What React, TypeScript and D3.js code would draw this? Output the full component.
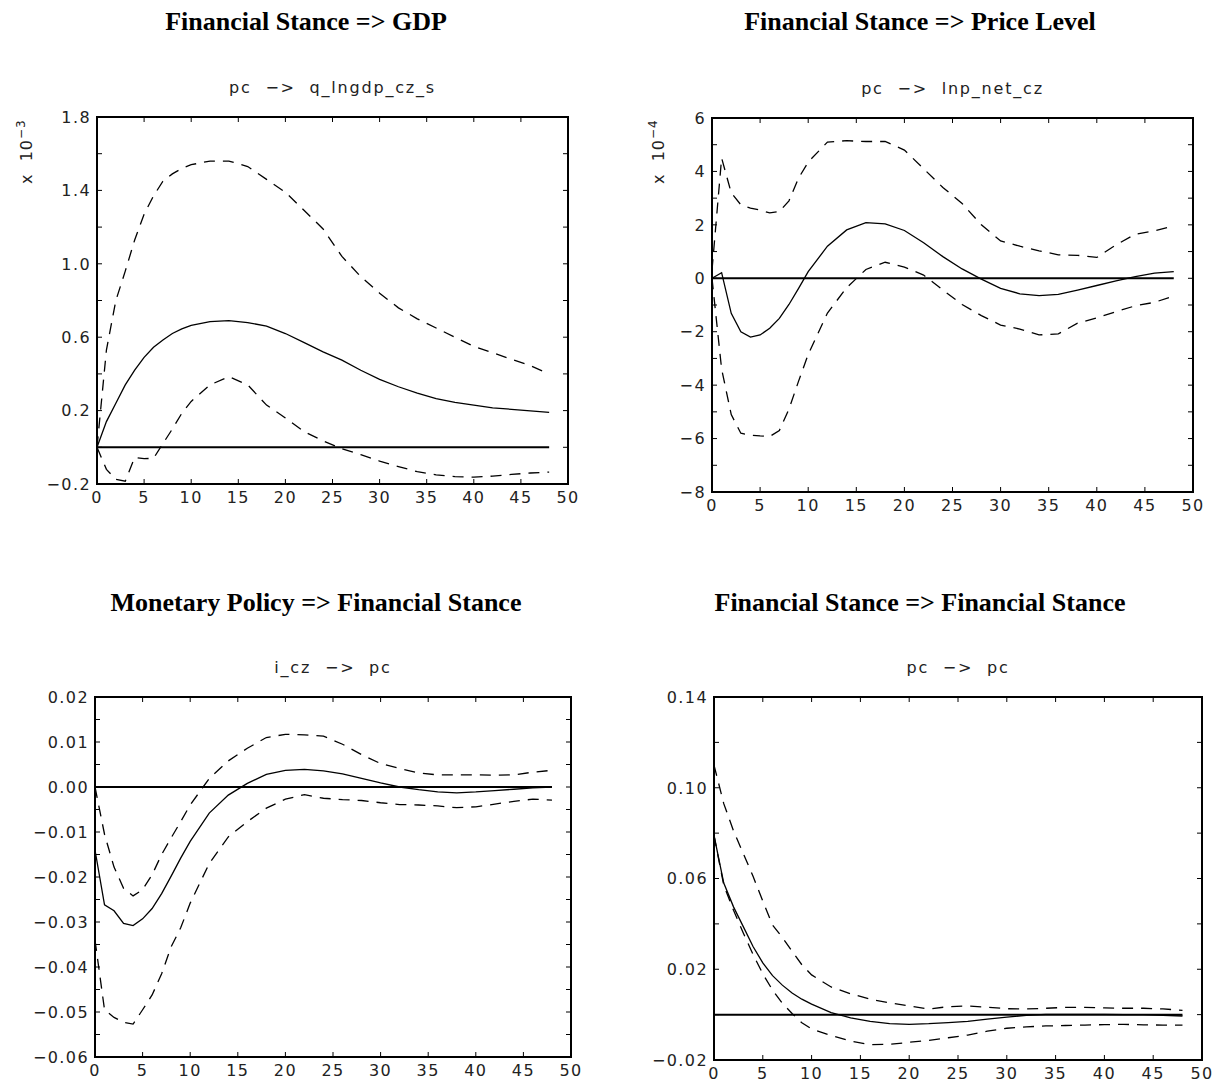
import React from 'react';
import * as d3 from 'd3';

// horizon (quarters) at which the responses are read
const periods = [0, 1, 2, 3, 4, 5, 6, 7, 8, 9, 10, 12, 14, 16, 18, 20, 22, 24, 26, 28, 30, 32, 34, 36, 38, 40, 42, 44, 46, 48];
const xTicks = [0, 5, 10, 15, 20, 25, 30, 35, 40, 45, 50];

// pc -> q_lngdp_cz_s  (x 10^-3)
const gdpIrf = [0, 0.14, 0.24, 0.34, 0.42, 0.49, 0.545, 0.585, 0.62, 0.645, 0.665, 0.685, 0.69, 0.68, 0.66, 0.62, 0.57, 0.52, 0.475, 0.42, 0.37, 0.33, 0.295, 0.265, 0.245, 0.23, 0.215, 0.207, 0.198, 0.19];
const gdpUpper = [0, 0.53, 0.8, 0.96, 1.13, 1.27, 1.37, 1.45, 1.49, 1.52, 1.54, 1.56, 1.56, 1.53, 1.46, 1.39, 1.29, 1.19, 1.04, 0.93, 0.84, 0.76, 0.7, 0.65, 0.6, 0.55, 0.515, 0.48, 0.445, 0.4];
const gdpLower = [0, -0.12, -0.175, -0.185, -0.055, -0.062, -0.06, 0.02, 0.1, 0.185, 0.25, 0.34, 0.385, 0.34, 0.23, 0.16, 0.085, 0.035, -0.008, -0.04, -0.075, -0.105, -0.133, -0.15, -0.16, -0.163, -0.157, -0.148, -0.14, -0.135];
const gdpYTicks = [-0.2, 0.2, 0.6, 1.0, 1.4, 1.8];

// pc -> lnp_net_cz  (x 10^-4)
const priceIrf = [0, 0.21, -1.31, -2.0, -2.2, -2.12, -1.87, -1.5, -0.98, -0.38, 0.25, 1.2, 1.81, 2.08, 2.04, 1.79, 1.33, 0.81, 0.35, -0.03, -0.38, -0.58, -0.65, -0.6, -0.44, -0.27, -0.1, 0.06, 0.19, 0.25];
const priceUpper = [0.3, 4.5, 3.2, 2.75, 2.63, 2.55, 2.45, 2.5, 2.9, 3.75, 4.35, 5.1, 5.15, 5.12, 5.12, 4.8, 4.1, 3.4, 2.8, 2.0, 1.4, 1.2, 1.03, 0.88, 0.86, 0.78, 1.25, 1.65, 1.78, 1.96];
const priceLower = [0, -3.4, -5.1, -5.8, -5.87, -5.9, -5.92, -5.7, -4.9, -3.85, -2.85, -1.3, -0.35, 0.33, 0.6, 0.42, 0.12, -0.44, -0.98, -1.4, -1.75, -1.9, -2.12, -2.08, -1.68, -1.48, -1.25, -1.03, -0.9, -0.66];
const priceYTicks = [-8, -6, -4, -2, 0, 2, 4, 6];

// i_cz -> pc
const monIrf = [-0.014, -0.0262, -0.0275, -0.0303, -0.0308, -0.0293, -0.027, -0.0237, -0.0198, -0.0158, -0.0121, -0.0058, -0.0018, 0.0008, 0.0028, 0.0037, 0.0039, 0.0036, 0.0029, 0.0019, 0.0009, 0.0, -0.0006, -0.0011, -0.0013, -0.0011, -0.0008, -0.0005, -0.0002, 0.0];
const monUpper = [0, -0.0105, -0.0178, -0.0225, -0.0242, -0.0228, -0.0195, -0.015, -0.0113, -0.0077, -0.004, 0.0019, 0.0058, 0.0086, 0.011, 0.0117, 0.0116, 0.0113, 0.0095, 0.0072, 0.0052, 0.0041, 0.0031, 0.0027, 0.0027, 0.0027, 0.0026, 0.0027, 0.0033, 0.0037];
const monLower = [-0.034, -0.0495, -0.0512, -0.0523, -0.0527, -0.0495, -0.0462, -0.0415, -0.0355, -0.0313, -0.0258, -0.017, -0.0111, -0.0077, -0.0047, -0.0027, -0.0017, -0.0025, -0.0028, -0.003, -0.0035, -0.0039, -0.004, -0.0042, -0.0046, -0.0044, -0.0038, -0.0032, -0.0027, -0.0029];
const monYTicks = [-0.06, -0.05, -0.04, -0.03, -0.02, -0.01, 0, 0.01, 0.02];

// pc -> pc
const stanceIrf = [0.079, 0.058, 0.0475, 0.0388, 0.03, 0.0228, 0.0172, 0.013, 0.0095, 0.0068, 0.0046, 0.0009, -0.0014, -0.003, -0.004, -0.0043, -0.004, -0.0035, -0.003, -0.002, -0.0011, -0.0003, 0.0001, 0.0001, 0.0001, 0.0001, 0, 0, -0.0003, -0.0006];
const stanceUpper = [0.11, 0.093, 0.081, 0.071, 0.061, 0.05, 0.0395, 0.034, 0.028, 0.022, 0.0175, 0.0122, 0.0092, 0.0068, 0.0052, 0.0038, 0.0025, 0.0035, 0.0038, 0.0033, 0.0026, 0.0025, 0.0028, 0.0032, 0.0032, 0.003, 0.0028, 0.0028, 0.0025, 0.0019];
const stanceLower = [0.079, 0.057, 0.046, 0.036, 0.0265, 0.018, 0.0108, 0.005, 0.0005, -0.0036, -0.0063, -0.0092, -0.0117, -0.0132, -0.0131, -0.0122, -0.0114, -0.0102, -0.009, -0.0073, -0.006, -0.0054, -0.005, -0.0048, -0.0046, -0.0044, -0.0043, -0.0045, -0.0046, -0.0046];
const stanceYTicks = [-0.02, 0.02, 0.06, 0.1, 0.14];

const panels = [
  {
    title: 'Financial Stance => GDP', titleX: 306, titleY: 30,
    subtitle: 'pc  −>  q_lngdp_cz_s', exponent: '−3',
    irf: gdpIrf, upper: gdpUpper, lower: gdpLower, yTicks: gdpYTicks, minorStep: 0.2, fmt: d3.format('.1f'),
    left: 97, right: 568, top: 117, bottom: 484, expX: 32,
  },
  {
    title: 'Financial Stance => Price Level', titleX: 920, titleY: 30,
    subtitle: 'pc  −>  lnp_net_cz', exponent: '−4',
    irf: priceIrf, upper: priceUpper, lower: priceLower, yTicks: priceYTicks, minorStep: 1, fmt: d3.format('d'),
    left: 712, right: 1193, top: 118, bottom: 492, expX: 664,
  },
  {
    title: 'Monetary Policy => Financial Stance', titleX: 316, titleY: 611,
    subtitle: 'i_cz  −>  pc', exponent: null,
    irf: monIrf, upper: monUpper, lower: monLower, yTicks: monYTicks, minorStep: 0.005, fmt: d3.format('.2f'),
    left: 95, right: 571, top: 697, bottom: 1057, expX: 0,
  },
  {
    title: 'Financial Stance => Financial Stance', titleX: 920, titleY: 611,
    subtitle: 'pc  −>  pc', exponent: null,
    irf: stanceIrf, upper: stanceUpper, lower: stanceLower, yTicks: stanceYTicks, minorStep: 0.02, fmt: d3.format('.2f'),
    left: 714, right: 1202, top: 697, bottom: 1060, expX: 0,
  },
];

const tickFont = "'DejaVu Sans ExtraLight', 'DejaVu Sans', 'Liberation Sans', sans-serif";

function Panel({ p }: { p: any }) {
  const yMin = p.yTicks[0];
  const yMax = p.yTicks[p.yTicks.length - 1];
  const x = d3.scaleLinear().domain([0, 50]).range([p.left, p.right]);
  const y = d3.scaleLinear().domain([yMin, yMax]).range([p.bottom, p.top]);
  const line = d3.line<number>().x((d, i) => x(periods[i])).y(d => y(d));
  const nMinor = Math.round((yMax - yMin) / p.minorStep);
  const minorTicks = d3.range(1, nMinor).map(i => yMin + i * p.minorStep);

  return (
    <g>
      <text x={p.titleX} y={p.titleY} textAnchor="middle" fontFamily="'Liberation Serif', 'DejaVu Serif', serif"
        fontWeight="bold" fontSize={26}>{p.title}</text>
      <text x={(p.left + p.right) / 2} y={p.top - 24} textAnchor="middle" fontFamily={tickFont}
        fontSize={16} letterSpacing={1.8} fill="#222" style={{ whiteSpace: 'pre' }}>{p.subtitle}</text>
      {p.exponent && (
        <text transform={`translate(${p.expX}, 184) rotate(-90)`} fontFamily={tickFont} fontSize={16} fill="#222"
          letterSpacing={1} style={{ whiteSpace: 'pre' }}>
          {'x  10'}<tspan dy={-7} fontSize={12}>{p.exponent}</tspan>
        </text>
      )}

      {/* y ticks, both sides, inward */}
      {minorTicks.map((t, i) => (
        <g key={'yt' + i}>
          <line x1={p.left} x2={p.left + 5} y1={y(t)} y2={y(t)} stroke="#000" strokeWidth={1} />
          <line x1={p.right} x2={p.right - 5} y1={y(t)} y2={y(t)} stroke="#000" strokeWidth={1} />
        </g>
      ))}
      {p.yTicks.map((t: number, i: number) => (
        <text key={'yl' + i} x={p.left - 6} y={y(t)} dy="0.36em" textAnchor="end" fontFamily={tickFont}
          fontSize={16} letterSpacing={1.4} fill="#222">{p.fmt(t)}</text>
      ))}

      {/* x ticks */}
      {xTicks.slice(1, -1).map((t, i) => (
        <g key={'xt' + i}>
          <line x1={x(t)} x2={x(t)} y1={p.bottom} y2={p.bottom - 5} stroke="#000" strokeWidth={1} />
          <line x1={x(t)} x2={x(t)} y1={p.top} y2={p.top + 5} stroke="#000" strokeWidth={1} />
        </g>
      ))}
      {xTicks.map((t, i) => (
        <text key={'xl' + i} x={x(t)} y={p.bottom + 19} textAnchor="middle" fontFamily={tickFont}
          fontSize={16} letterSpacing={1.4} fill="#222">{t}</text>
      ))}

      {/* zero line */}
      <line x1={x(0)} x2={x(48)} y1={y(0)} y2={y(0)} stroke="#000" strokeWidth={2} />

      <path d={line(p.upper) || ''} fill="none" stroke="#000" strokeWidth={1.3} strokeDasharray="11,8" />
      <path d={line(p.lower) || ''} fill="none" stroke="#000" strokeWidth={1.3} strokeDasharray="11,8" />
      <path d={line(p.irf) || ''} fill="none" stroke="#000" strokeWidth={1.3} />

      <rect x={p.left} y={p.top} width={p.right - p.left} height={p.bottom - p.top} fill="none" stroke="#000" strokeWidth={2} />
    </g>
  );
}

export default function App() {
  return (
    <svg width={1221} height={1083} style={{ position: 'absolute', left: 0, top: 0, background: '#fff' }}>
      {panels.map((p, i) => <Panel key={i} p={p} />)}
    </svg>
  );
}
